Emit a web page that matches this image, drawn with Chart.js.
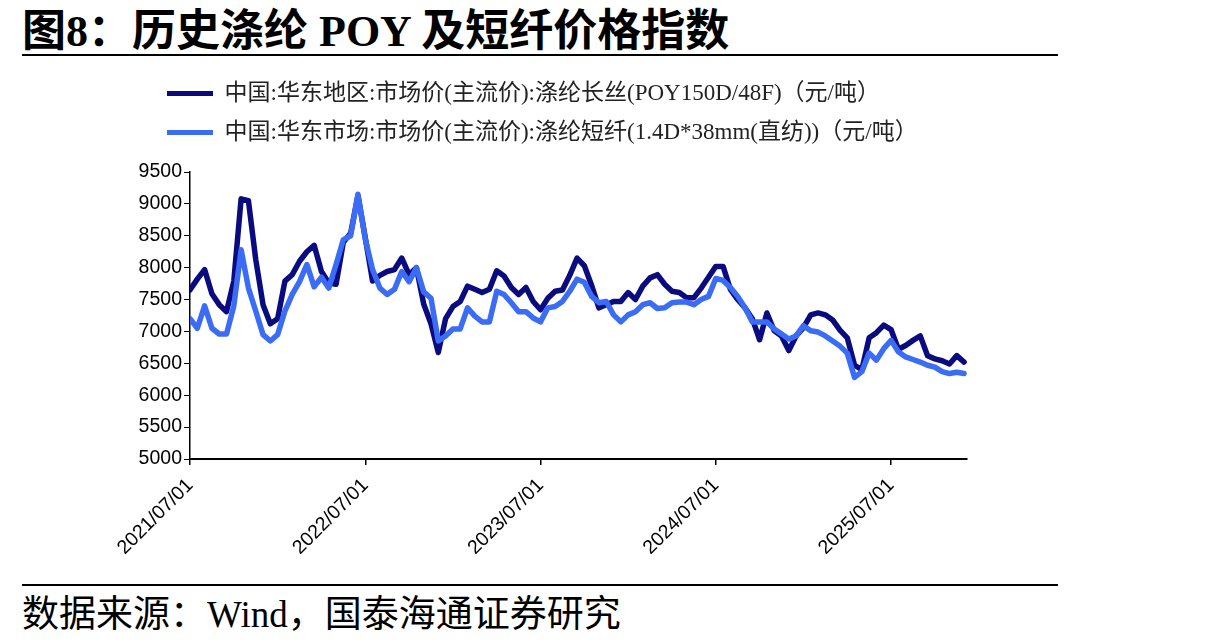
<!DOCTYPE html>
<html>
<head>
<meta charset="utf-8">
<script src="https://cdn.jsdelivr.net/npm/chart.js@4/dist/chart.umd.min.js"></script>
<style>
  html, body { margin: 0; padding: 0; background: #fff; }
  body { width: 1215px; height: 644px; position: relative; overflow: hidden; }
  #title {
    position: absolute; left: 22px; top: -5px; white-space: nowrap;
    font: bold 44px "Liberation Serif", "Noto Sans CJK SC", serif; color: #000;
  }
  .rule { position: absolute; left: 22px; width: 1036px; height: 2px; background: #000; }
  #source {
    position: absolute; left: 22px; top: 584px; white-space: nowrap;
    font: 37px "Liberation Serif", "Noto Sans CJK SC", serif; color: #000;
  }
  #wrap { position: absolute; left: 0; top: 60px; width: 1215px; height: 520px; }
</style>
</head>
<body>
<div id="title">图8：历史涤纶 POY 及短纤价格指数</div>
<div class="rule" style="top:54px"></div>
<div id="wrap"><canvas id="c"></canvas></div>
<div class="rule" style="top:584px"></div>
<div id="source">数据来源：Wind，国泰海通证券研究</div>

<script>
/* x = 半月序号：0 = 2021/07/01，每 24 个点为一年 */
const TICK_LABELS = ['2021/07/01', '2022/07/01', '2023/07/01', '2024/07/01', '2025/07/01'];
const TICK_STEP = 24;

const SERIES_NAMES = [
  '中国:华东地区:市场价(主流价):涤纶长丝(POY150D/48F)（元/吨）',
  '中国:华东市场:市场价(主流价):涤纶短纤(1.4D*38mm(直纺))（元/吨）',
];

// 涤纶长丝 POY（深蓝）
const poyPrice = [
  7650, 7820, 7970, 7590, 7420, 7310, 7790, 9080, 9050, 8130,
  7420, 7120, 7200, 7790, 7890, 8100, 8250, 8350, 7940, 7760,
  7740, 8400, 8540, 9130, 8470, 7790, 7880, 7940, 7970, 8150,
  7890, 8000, 7430, 7120, 6670, 7200, 7390, 7470, 7710, 7660,
  7610, 7660, 7950, 7870, 7690, 7580, 7690, 7470, 7340, 7520,
  7630, 7650, 7880, 8150, 8030, 7720, 7370, 7420, 7470, 7470,
  7610, 7500, 7710, 7840, 7890, 7740, 7630, 7610, 7530, 7530,
  7680, 7850, 8020, 8020, 7660, 7500, 7370, 7200, 6870, 7290,
  7010, 6930, 6700, 6930, 7060, 7260, 7290, 7260, 7180, 7020,
  6900, 6470, 6400, 6900, 6980, 7100, 7030, 6720, 6780, 6860,
  6930, 6620, 6570, 6540, 6490, 6620, 6520,
];

// 涤纶短纤（亮蓝）
const psfPrice = [
  7200, 7050, 7400, 7050, 6960, 6960, 7400, 8280, 7680, 7320,
  6950, 6850, 6950, 7320, 7580, 7780, 8050, 7700, 7850, 7680,
  8050, 8440, 8500, 9150, 8450, 7970, 7680, 7580, 7660, 7940,
  7780, 8000, 7620, 7520, 6850, 6930, 7040, 7040, 7370, 7240,
  7150, 7150, 7630, 7580, 7450, 7310, 7310, 7210, 7150, 7370,
  7390, 7470, 7630, 7820, 7770, 7550, 7450, 7470, 7260, 7150,
  7260, 7310, 7420, 7450, 7360, 7370, 7450, 7460, 7460, 7420,
  7500, 7550, 7830, 7800, 7690, 7550, 7370, 7150, 7150, 7150,
  7040, 6960, 6880, 6930, 7090, 7010, 6990, 6930, 6850, 6770,
  6660, 6280, 6370, 6660, 6550, 6730, 6860, 6680, 6600, 6560,
  6520, 6470, 6440, 6370, 6340, 6360, 6340,
];

const DARK = '#0b0b80';
const LIGHT = '#3b6cf6';
const TICK_FONT = { family: '"Liberation Sans", Arial, sans-serif', size: 19.5 };

const toPoints = arr => arr.map((v, i) => ({ x: i, y: v }));

/* 图例：加高以留出与绘图区的间距，并把起点挪到 x=149 */
const legendPlace = {
  id: 'legendPlace',
  beforeInit(chart) {
    const fit = chart.legend.fit;
    chart.legend.fit = function () {
      fit.call(this);
      this.height += 18;
    };
  },
  afterLayout(chart) {
    const lg = chart.legend;
    const w = lg.right - lg.left;
    lg.left = 151;
    lg.right = 151 + w;
  },
};

new Chart(document.getElementById('c'), {
  type: 'line',
  data: {
    datasets: [
      {
        label: SERIES_NAMES[0],
        data: toPoints(poyPrice),
        borderColor: DARK, backgroundColor: DARK,
        borderWidth: 5.5, pointRadius: 0, tension: 0,
        borderJoinStyle: 'round', borderCapStyle: 'round',
        order: 1,
      },
      {
        label: SERIES_NAMES[1],
        data: toPoints(psfPrice),
        borderColor: LIGHT, backgroundColor: LIGHT,
        borderWidth: 5.5, pointRadius: 0, tension: 0,
        borderJoinStyle: 'round', borderCapStyle: 'round',
        order: 0,
      },
    ],
  },
  options: {
    responsive: true, maintainAspectRatio: false, animation: false,
    layout: { padding: { left: 100, right: 248, top: 6, bottom: 0 } },
    plugins: {
      legend: {
        display: true, position: 'top', align: 'start',
        labels: {
          boxWidth: 46, boxHeight: 5, padding: 16, color: '#222',
          font: { family: '"Liberation Serif", "Noto Sans CJK SC", serif', size: 23 },
          sort: (a, b) => a.datasetIndex - b.datasetIndex,
          generateLabels(chart) {
            return Chart.defaults.plugins.legend.labels.generateLabels(chart)
              .map(l => ({ ...l, lineWidth: 0, strokeStyle: l.fillStyle }));
          },
        },
      },
      tooltip: { enabled: false },
    },
    scales: {
      x: {
        type: 'linear', min: 0, max: 106.4,
        afterBuildTicks: s => { s.ticks = TICK_LABELS.map((_, k) => ({ value: k * TICK_STEP })); },
        afterFit: s => { s.height = 121; },
        grid: { drawOnChartArea: false, drawTicks: true, tickLength: 6, color: '#000', lineWidth: 1.5 },
        border: { display: true, color: '#000', width: 2 },
        ticks: {
          color: '#000', font: TICK_FONT, padding: 9,
          minRotation: 45, maxRotation: 45, autoSkip: false,
          callback: v => TICK_LABELS[Math.round(v / TICK_STEP)],
        },
      },
      y: {
        min: 5000, max: 9500,
        afterFit: s => { s.width = 90; },
        grid: { drawOnChartArea: false, drawTicks: true, tickLength: 6, color: '#000', lineWidth: 1 },
        border: { display: true, color: '#000', width: 1.5 },
        ticks: { color: '#000', font: TICK_FONT, stepSize: 500, padding: 2, callback: v => v },
      },
    },
  },
  plugins: [legendPlace],
});
</script>
</body>
</html>
